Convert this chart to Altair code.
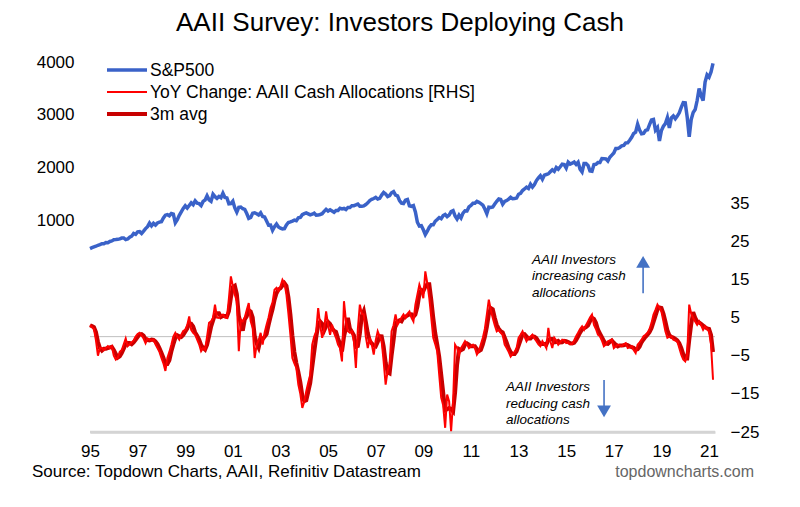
import altair as alt
import pandas as pd

FONT = "Liberation Sans"

TITLE = ["AAII Survey: Investors Deploying Cash"]
SOURCE = ["Source: Topdown Charts, AAII, Refinitiv Datastream"]
SITE = ["topdowncharts.com"]
SERIES = ["S&P500", "YoY Change: AAII Cash Allocations [RHS]", "3m avg"]
SERIES_COLORS = ["#3A62C8", "#FF0000", "#C80000"]
SERIES_WIDTHS = [3.5, 2, 4]

START_YEAR = 1995
X_TICKS = list(range(1995, 2022, 2))
LEFT_TICKS = [1000, 2000, 3000, 4000]
RIGHT_TICKS = [-25, -15, -5, 5, 15, 25, 35]
RIGHT_MIN = -25

# S&P 500 monthly (Jan 1995 .. Mar 2021), one row per year
spx_rows = [
    [470, 487, 501, 515, 533, 545, 562, 562, 584, 582, 605, 615],
    [636, 640, 645, 654, 669, 671, 640, 652, 687, 705, 757, 741],
    [786, 791, 757, 801, 848, 885, 954, 899, 947, 915, 955, 970],
    [980, 1049, 1102, 1112, 1091, 1134, 1121, 957, 1017, 1099, 1164, 1229],
    [1280, 1238, 1286, 1335, 1302, 1373, 1329, 1320, 1283, 1363, 1389, 1469],
    [1394, 1366, 1499, 1452, 1421, 1455, 1431, 1518, 1437, 1429, 1315, 1320],
    [1366, 1240, 1160, 1249, 1256, 1224, 1211, 1134, 1041, 1060, 1139, 1148],
    [1130, 1107, 1147, 1077, 1067, 990, 912, 916, 815, 886, 936, 880],
    [856, 841, 848, 917, 964, 975, 990, 1008, 996, 1051, 1058, 1112],
    [1131, 1145, 1126, 1107, 1121, 1141, 1102, 1104, 1115, 1130, 1174, 1212],
    [1181, 1204, 1181, 1157, 1192, 1191, 1234, 1220, 1229, 1207, 1249, 1248],
    [1280, 1281, 1295, 1311, 1270, 1270, 1277, 1304, 1336, 1378, 1401, 1418],
    [1438, 1407, 1421, 1482, 1531, 1503, 1455, 1474, 1527, 1549, 1481, 1468],
    [1379, 1331, 1323, 1386, 1400, 1280, 1267, 1283, 1165, 969, 896, 903],
    [826, 735, 798, 873, 919, 919, 987, 1021, 1057, 1036, 1096, 1115],
    [1074, 1104, 1169, 1187, 1089, 1031, 1102, 1049, 1141, 1183, 1181, 1258],
    [1286, 1327, 1326, 1364, 1345, 1321, 1292, 1219, 1131, 1253, 1247, 1258],
    [1312, 1366, 1408, 1398, 1310, 1362, 1379, 1407, 1441, 1412, 1416, 1426],
    [1498, 1515, 1569, 1598, 1631, 1606, 1686, 1633, 1682, 1757, 1806, 1848],
    [1783, 1859, 1872, 1884, 1924, 1960, 1931, 2003, 1972, 2018, 2068, 2059],
    [1995, 2105, 2068, 2086, 2107, 2063, 2104, 1972, 1920, 2079, 2080, 2044],
    [1940, 1932, 2060, 2065, 2097, 2099, 2174, 2171, 2168, 2126, 2199, 2239],
    [2279, 2364, 2363, 2384, 2412, 2423, 2470, 2472, 2519, 2575, 2648, 2674],
    [2824, 2714, 2641, 2648, 2705, 2718, 2816, 2902, 2914, 2712, 2760, 2507],
    [2704, 2784, 2834, 2946, 2752, 2942, 2980, 2926, 2977, 3038, 3141, 3231],
    [3226, 2954, 2585, 2912, 3044, 3100, 3271, 3500, 3363, 3270, 3622, 3756],
    [3714, 3811, 3973],
]

# YoY change in AAII cash allocations (pp), monthly, one row per year
yoy_rows = [
    [3, 2.5, 2, -1, -5, -3, -3, -3.5, -3, -2.5, -3, -2.5],
    [-5, -6, -5.5, -4, -3.5, -2, -0.5, -2.5, -2, -1.5, -1, 0],
    [0.7, 1, 0.3, -0.5, -1.7, -0.5, -0.8, -1, -0.8, -2, -3, -4],
    [-5.6, -7, -9, -5.6, -4, -2.1, 0, 1, 0, -0.8, 0.5, 1.5],
    [1.8, 3, 5.3, 1.8, 1, 0.5, -0.8, -2, -3.8, -3, -3.4, 0],
    [3.6, 4, 4.9, 8.4, 5, 4.9, 5.5, 5.8, 5, 4.9, 10, 15.8],
    [13.2, 11, 9.3, -3.8, 4.5, 4, 5, 7, 8.8, 4, 2.3, -5.6],
    [-2.1, -1, 1, -2.1, 1, 3.1, 5, 7.5, 9, 12.3, 12.8, 12],
    [13.2, 14.9, 14, 11, 6, 0.5, -5.6, -7, -8.2, -12.6, -15, -18.7],
    [-17, -14.3, -12, -10, -2.1, 0, 1.4, 7.5, 3, -0.3, 2, 6.6],
    [3, 0.5, 3.1, 1, -0.3, -2.1, -3, -6.5, 9.3, 4, 1.4, 1],
    [1.4, -1.2, -8.2, 2, 8.4, 6, 5.8, 0, -3, -0.3, -2, -4.7],
    [-1, 1.4, 0, -1.2, -6.5, -12.6, -9, -7.3, 1.4, 3, 5.8, 3.1],
    [4, 5, 5.8, 4.9, 6, 6.6, 5, 4, 8.4, 11, 13.6, 12],
    [10.1, 17.1, 14, 10.1, 5, -0.3, -2, -3.8, -10, -16, -18, -23.9],
    [-15.2, -17, -24.8, -17, -2.1, -3, -4.7, -3, -2.1, -1.2, -2, -3],
    [-2.5, -2.1, -3, -4.7, -3.8, -2, -0.3, 2, 5.8, 9.7, 7, 4.9],
    [3, 1.4, 1.8, 1, 0.5, -2.1, -3, -4, -5.2, -4.5, -4, -3],
    [-0.3, 0.5, 1.4, 0, -1.2, -0.3, 0, 0.5, -0.5, -1.2, -2, -2.5],
    [-1.2, -2, -3, 2.3, -1.2, -3, -0.3, -1, -2.1, -1.5, -0.8, -1],
    [-1.7, -1.5, -2, -1.9, -1, 0.1, 1, 2, 2.7, 1.8, 3, 4],
    [5, 5.8, 3.1, 2, 0.5, 0.1, -1, -2.5, -2, -1.2, -1, -0.8],
    [-3, -2.5, -2.1, -2.3, -2.5, -2, -1.7, -3, -2.8, -2.5, -3.5, -4.3],
    [-2.1, -1.5, -0.8, 0.1, 0.5, 1, 2, 3.6, 5.8, 7, 8.4, 7.5],
    [6.6, 4, 1.4, -0.3, 0, 0.1, -0.8, -1, -1.2, -3, -4.7, -6],
    [-6.5, -4.7, 8.4, 6, 4.9, 4, 3.1, 4, 3, 1.8, 2.7, 2],
    [1.4, -2.1, -11.3],
]

# Annotations (data coordinates on the right-hand scale)
ANN_TEXT = ["AAII Investors\nincreasing cash\nallocations",
            "AAII Investors\nreducing cash\nallocations"]
ANN_X = [2013.56, 2012.47]
ANN_Y = [22.0, -11.4]
ARROW_X = [2018.23, 2016.59]
ARROW_FROM = [11.4, -11.4]
ARROW_TO = [19.0, -18.7]
ARROW_HEAD = [19.6, -19.6]
ARROW_SHAPE = ["triangle-up", "triangle-down"]
ARROW_COLOR = "#4472C4"

spx = [v for row in spx_rows for v in row]
yoy = [v for row in yoy_rows for v in row]
df = pd.DataFrame({
    "t": [START_YEAR + i / 12 for i in range(len(spx))],
    "spx": spx,
    "yoy": yoy,
})

x_scale = alt.Scale(domain=[1995, 2021.25], nice=False, zero=False)
x_axis = alt.Axis(values=X_TICKS, labelExpr="substring(toString(datum.value), 2, 4)",
                  grid=False, ticks=False, domainColor="#D4D4D4", domainWidth=2.5,
                  labelFontSize=17, labelPadding=11, labelColor="#000000",
                  labelFlush=False, labelOverlap=False, title="", labelFont=FONT)
x_enc = alt.X("t:Q", scale=x_scale, axis=x_axis)

r_scale = alt.Scale(domain=[RIGHT_MIN, 72], nice=False, zero=False)
r_axis = alt.Axis(orient="right", values=RIGHT_TICKS, grid=False, ticks=False, domain=False,
                  labelFontSize=17, labelPadding=15, labelColor="#000000", title="",
                  labelFont=FONT, format="d")


def ry(field):
    return alt.Y(field, scale=r_scale, axis=r_axis)


spx_line = alt.Chart(df).mark_line(color=SERIES_COLORS[0], strokeWidth=SERIES_WIDTHS[0]).encode(
    x=x_enc,
    y=alt.Y("spx:Q", scale=alt.Scale(domain=[-3000, 4000], nice=False, zero=False),
            axis=alt.Axis(orient="left", values=LEFT_TICKS, grid=False, ticks=False, domain=False,
                          labelFontSize=17, labelPadding=16, labelColor="#000000", title="",
                          labelFont=FONT, format="d")),
)

red_base = alt.Chart(df).transform_window(avg3="mean(yoy)", frame=[-2, 0], sort=[alt.SortField("t")])

zero_rule = alt.Chart(pd.DataFrame({"t": [1995.0], "v": [0]})).mark_rule(
    color="#BFBFBF", strokeWidth=1).encode(y=ry("v:Q"))
base_rule = alt.Chart(pd.DataFrame({"t": [1995.0], "v": [RIGHT_MIN]})).mark_rule(
    color="#D4D4D4", strokeWidth=2.5).encode(y=ry("v:Q"))
avg_line = red_base.mark_line(color=SERIES_COLORS[2], strokeWidth=SERIES_WIDTHS[2]).encode(
    x=x_enc, y=ry("avg3:Q"))
raw_line = red_base.mark_line(color=SERIES_COLORS[1], strokeWidth=SERIES_WIDTHS[1]).encode(
    x=x_enc, y=ry("yoy:Q"))

ann_df = pd.DataFrame({"t": ANN_X, "v": ANN_Y, "label": ANN_TEXT})
ann_text = alt.Chart(ann_df).mark_text(align="left", baseline="top", fontStyle="italic",
                                       fontSize=13.5, lineBreak="\n", lineHeight=16.5,
                                       font=FONT, color="#000000").encode(
    x=x_enc, y=ry("v:Q"), text="label:N")

arrow_df = pd.DataFrame({"t": ARROW_X, "v": ARROW_FROM, "v2": ARROW_TO,
                         "h": ARROW_HEAD, "shape": ARROW_SHAPE})
arrow_shaft = alt.Chart(arrow_df).mark_rule(color=ARROW_COLOR, strokeWidth=1.6).encode(
    x=x_enc, y=ry("v:Q"), y2="v2:Q")
arrow_head = alt.Chart(arrow_df).mark_point(filled=True, color=ARROW_COLOR, size=190, opacity=1).encode(
    x=x_enc, y=ry("h:Q"), shape=alt.Shape("shape:N", scale=None))

inner = alt.layer(base_rule, zero_rule, avg_line, raw_line, ann_text, arrow_shaft, arrow_head)

# legend (manual)
legend_layers = []
for i, (name, col, w) in enumerate(zip(SERIES, SERIES_COLORS, SERIES_WIDTHS)):
    ldf = pd.DataFrame({"name": [name]})
    ypix = 8 + 22 * i
    legend_layers.append(alt.Chart(ldf).mark_rule(color=col, strokeWidth=w).encode(
        x=alt.value(17), x2=alt.value(57), y=alt.value(ypix)))
    legend_layers.append(alt.Chart(ldf).mark_text(align="left", baseline="middle", fontSize=17.5,
                                                  font=FONT, color="#000000").encode(
        x=alt.value(60), y=alt.value(ypix + 1), text="name:N"))

title_text = alt.Chart(pd.DataFrame({"s": TITLE})).mark_text(
    align="center", baseline="alphabetic", fontSize=26, font=FONT, color="#000000").encode(
    x=alt.value(310), y=alt.value(-31), text="s:N")
source_text = alt.Chart(pd.DataFrame({"s": SOURCE})).mark_text(
    align="left", baseline="alphabetic", fontSize=17, font=FONT, color="#000000").encode(
    x=alt.value(-58), y=alt.value(415), text="s:N")
site_text = alt.Chart(pd.DataFrame({"s": SITE})).mark_text(
    align="right", baseline="alphabetic", fontSize=16, font=FONT, color="#666666").encode(
    x=alt.value(664), y=alt.value(415), text="s:N")

chart = alt.layer(inner, spx_line, *legend_layers, title_text, source_text, site_text).resolve_scale(
    y="independent"
).properties(
    width=625, height=370,
    padding={"left": 82, "top": 54, "right": 77, "bottom": 60},
    autosize=alt.AutoSizeParams(type="none"),
).configure_view(stroke="transparent")

chart.save("out.html", embed_options={"renderer": "svg", "actions": False})
